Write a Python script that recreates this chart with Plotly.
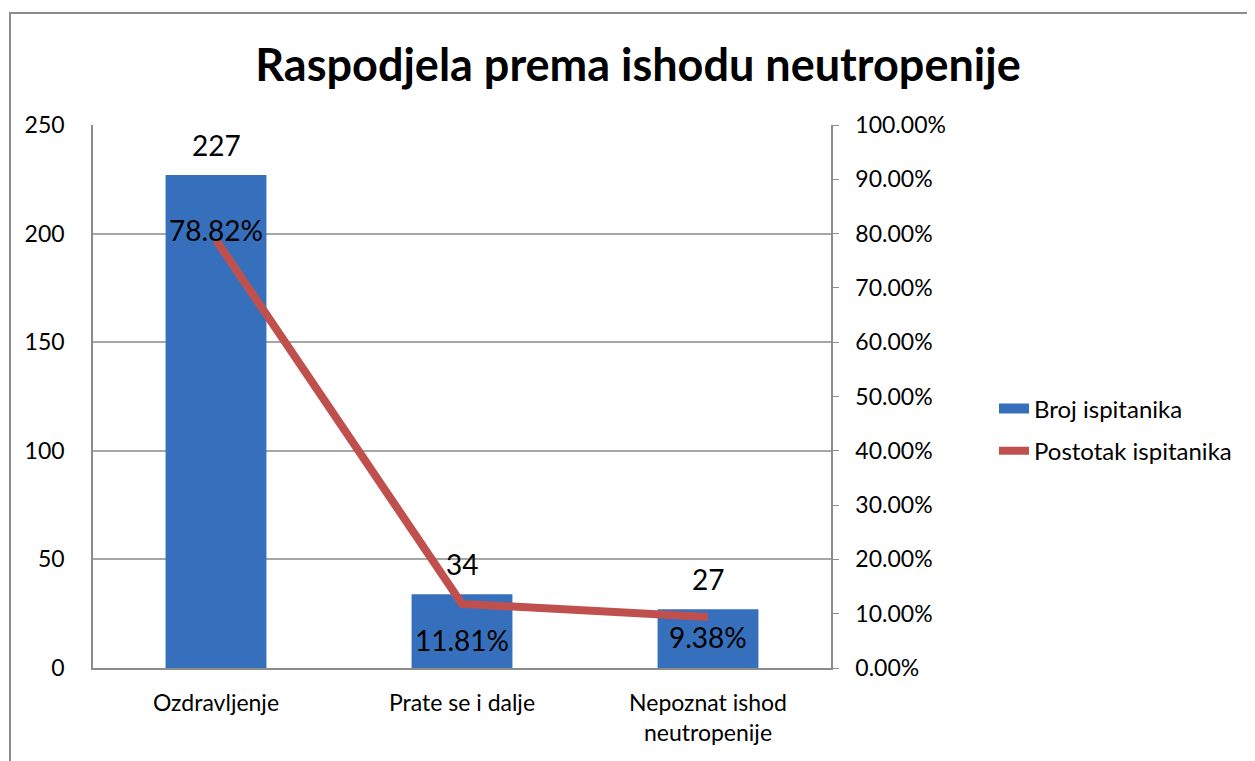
import plotly.graph_objs as go

# Chart data
categories = ["Ozdravljenje", "Prate se i dalje", "Nepoznat ishod<br>neutropenije"]
broj = [227, 34, 27]
postotak = [78.82, 11.81, 9.38]
pct_labels = ["78.82%", "11.81%", "9.38%"]
right_ticks = [0, 10, 20, 30, 40, 50, 60, 70, 80, 90, 100]

FONT = "Lato, 'Open Sans', sans-serif"
W, H = 1255, 761
# page body adds an 8px offset, margins are set so the plot sits at 93..831 x 125..668
L, R, T, B = 85, 432, 117, 101
pw, ph = W - L - R, H - T - B
BLUE = "#3670bd"

fig = go.Figure()
fig.add_trace(go.Bar(
    x=categories,
    y=broj,
    name="Broj ispitanika",
    width=0.41,
    showlegend=False,
    marker=dict(color=BLUE, line=dict(width=0)),
))
# legend swatch for the bars (wide rectangle like the original)
fig.add_trace(go.Scatter(
    x=[None], y=[None], mode="lines", name="Broj ispitanika",
    legendgroup="a", line=dict(color=BLUE, width=12),
))
fig.add_trace(go.Scatter(
    x=categories,
    y=postotak,
    yaxis="y2",
    mode="lines",
    name="Postotak ispitanika",
    legendgroup="b",
    line=dict(color="#c0504d", width=8),
))

# data labels
for c, v in zip(categories, broj):
    fig.add_annotation(x=c, y=v, text=str(v), showarrow=False, yshift=30,
                       font=dict(size=28, color="black", family=FONT))
shifts = [10, -36, -20]
for c, p, t, s in zip(categories, postotak, pct_labels, shifts):
    fig.add_annotation(x=c, y=p, yref="y2", text=t, showarrow=False, yshift=s,
                       font=dict(size=28, color="black", family=FONT))

# outer frame of the chart
fig.add_shape(type="rect", xref="paper", yref="paper",
              x0=(2 - L) / pw, x1=(W + 20 - L) / pw,
              y0=-(B + 20) / ph, y1=(H - B - 5) / ph,
              line=dict(color="#8c8c8c", width=2), layer="below")

fig.update_layout(
    width=W, height=H,
    margin=dict(l=L, r=R, t=T, b=B),
    paper_bgcolor="white", plot_bgcolor="white",
    font=dict(family=FONT, size=23, color="black"),
    title=dict(text="<b>Raspodjela prema ishodu neutropenije</b>",
               x=630 / W, xanchor="center", y=1 - 57 / H, yanchor="middle",
               font=dict(size=45, family=FONT, color="black")),
    showlegend=True,
    legend=dict(x=(994 - 8 - L) / pw, xanchor="left", y=(660 - 422) / ph, yanchor="middle",
                font=dict(size=24, family=FONT), tracegroupgap=8, traceorder="grouped"),
    bargap=0.59,
    xaxis=dict(type="category", range=[-0.5, 2.5], showline=True, linecolor="#8c8c8c",
               linewidth=1.5, ticks="", showgrid=False, tickfont=dict(size=23),
               ticklabelstandoff=14),
    yaxis=dict(range=[0, 250], dtick=50, showline=True, linecolor="#8c8c8c", linewidth=1.5,
               gridcolor="#a6a6a6", gridwidth=1.5, ticks="", ticklabelstandoff=22,
               tickfont=dict(size=23), zeroline=False),
    yaxis2=dict(range=[0, 100], overlaying="y", side="right", tickvals=right_ticks,
                ticktext=[f"{v:.2f}%" for v in right_ticks], showline=True,
                linecolor="#8c8c8c", linewidth=1.5, ticks="outside", ticklen=6,
                tickcolor="#8c8c8c", showgrid=False, zeroline=False,
                ticklabelstandoff=12, tickfont=dict(size=23)),
)

fig.write_html("out.html")
